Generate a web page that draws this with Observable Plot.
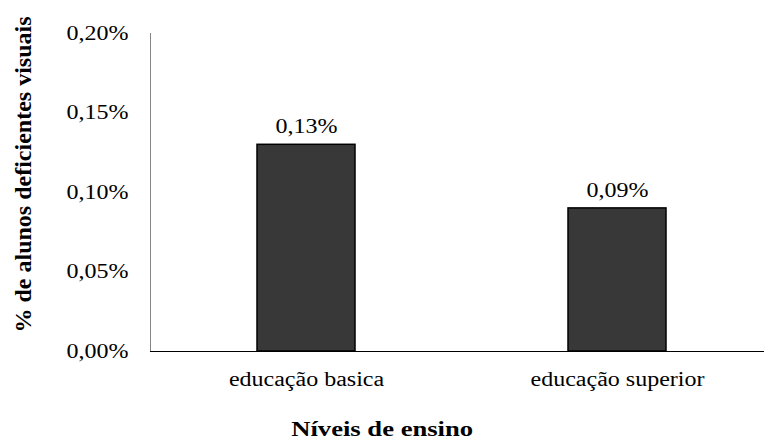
<!DOCTYPE html>
<html>
<head>
<meta charset="utf-8">
<script src="https://cdn.jsdelivr.net/npm/d3@7"></script>
<script src="https://cdn.jsdelivr.net/npm/@observablehq/plot@0.6"></script>
<style>
  body { margin: 0; background: #fff; }
  #xtitle { width: 764px; height: 26px; text-align: center; font: bold 22px "Liberation Serif", serif; line-height: 28px; padding-top: 10px; color: #000; }
  #xtitle span { display: inline-block; transform: scaleX(1.21); }
</style>
</head>
<body>
<div id="chart"></div>
<div id="xtitle"><span>Níveis de ensino</span></div>
<script>
const categories = ["educação basica", "educação superior"];
const values = [0.13, 0.09];
const yTicks = [0, 0.05, 0.10, 0.15, 0.20];
const yTitle = "% de alunos deficientes visuais";

const data = categories.map((c, i) => ({cat: c, val: values[i]}));
const fmt = d => d.toFixed(2).replace(".", ",") + "%";

const chart = Plot.plot({
  width: 764,
  height: 405,
  marginTop: 33,
  marginBottom: 54,
  marginLeft: 150,
  marginRight: 0,
  style: {fontFamily: "'Liberation Serif', serif", fontSize: "20px", color: "#000", background: "#fff"},
  x: {type: "band", domain: categories, range: [150, 772], paddingInner: 0.685, paddingOuter: 0.3425, label: null},
  y: {domain: [0, 0.2], label: null},
  marks: [
    Plot.axisY({ticks: yTicks, tickFormat: fmt, tickSize: 0, tickPadding: 22, label: null}),
    Plot.axisX({tickSize: 0, tickPadding: 20, label: null}),
    Plot.frame({anchor: "left", stroke: "#868686"}),
    Plot.barY(data, {x: "cat", y: "val", fill: "#383838", stroke: "#000", strokeWidth: 1.5}),
    Plot.ruleY([0], {stroke: "#000"}),
    Plot.text(data, {x: "cat", y: "val", text: d => fmt(d.val), dy: -18}),
    Plot.text([yTitle], {frameAnchor: "left", text: d => d, rotate: -90, textAnchor: "middle", lineAnchor: "middle", dx: -127, dy: -18, fontWeight: "bold", fontSize: 24})
  ]
});
document.getElementById("chart").appendChild(chart);

// Widen horizontal texts to match the reference's stretched glyphs
chart.querySelectorAll("text").forEach(t => {
  if (t.textContent === yTitle) return;
  const L = t.getComputedTextLength();
  t.setAttribute("textLength", (L * 1.2).toFixed(1));
  t.setAttribute("lengthAdjust", "spacingAndGlyphs");
});
</script>
</body>
</html>
